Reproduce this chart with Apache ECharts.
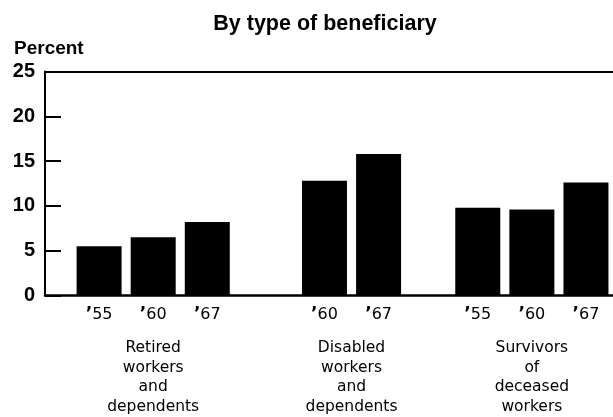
<!DOCTYPE html>
<html>
<head>
<meta charset="utf-8">
<script src="https://cdn.jsdelivr.net/npm/echarts@6/dist/echarts.min.js"></script>
<style>
  html, body { margin: 0; padding: 0; background: #fff; }
  #chart { width: 613px; height: 417px; }
</style>
</head>
<body>
<div id="chart"></div>
<script>
// values (percent)
const retiredYears = ['55', '60', '67'];
const retiredValues = [5.5, 6.5, 8.2];
const disabledYears = ['60', '67'];
const disabledValues = [12.8, 15.8];
const survivorYears = ['55', '60', '67'];
const survivorValues = [9.8, 9.6, 12.6];
const groupNames = [
  'Retired\nworkers\nand\ndependents',
  'Disabled\nworkers\nand\ndependents',
  'Survivors\nof\ndeceased\nworkers'
];
const yTicks = [0, 5, 10, 15, 20, 25];

// slotted category axis: each bar 6 slots apart, groups start at these slots
const groupStart = [6, 31, 48];
const barStep = 6;
const slotCount = 64;
const groups = [
  { years: retiredYears, values: retiredValues },
  { years: disabledYears, values: disabledValues },
  { years: survivorYears, values: survivorValues }
];
const yearLabel = new Array(slotCount).fill('');
const groupLabel = new Array(slotCount).fill('');
const barData = new Array(slotCount).fill(null);
groups.forEach(function (g, gi) {
  const first = groupStart[gi];
  g.years.forEach(function (y, i) {
    const s = first + i * barStep;
    yearLabel[s] = '{q|\u2019}' + y;
    barData[s] = g.values[i];
  });
  const last = first + (g.years.length - 1) * barStep;
  groupLabel[Math.round((first + last) / 2)] = groupNames[gi];
});
const cats = yearLabel.map(function (_, i) { return 'c' + i; });

const chart = echarts.init(document.getElementById('chart'));
chart.setOption({
  animation: false,
  title: [
    {
      text: 'By type of beneficiary',
      left: 320, top: 8, textAlign: 'center',
      textStyle: { fontFamily: 'Liberation Sans', fontWeight: 'bold', fontSize: 21.5, color: '#000' }
    },
    {
      text: 'Percent',
      left: 9, top: 34,
      textStyle: { fontFamily: 'Liberation Sans', fontWeight: 'bold', fontSize: 19, color: '#000' }
    }
  ],
  grid: { left: 45, right: 0, top: 71.5, bottom: 121.5, containLabel: false, outerBoundsMode: 'none' },
  xAxis: [
    {
      type: 'category', data: cats, boundaryGap: false, position: 'bottom',
      axisLine: { lineStyle: { color: '#000', width: 2.5 } },
      axisTick: { show: false },
      axisLabel: {
        interval: 0, margin: 11, color: '#000', fontFamily: 'DejaVu Sans', fontSize: 16,
        formatter: function (v, i) { return yearLabel[i]; },
        rich: { q: { fontFamily: 'DejaVu Sans', fontWeight: 'bold', fontSize: 17, color: '#000' } }
      }
    },
    {
      type: 'category', data: cats, boundaryGap: false, position: 'top',
      axisLine: { lineStyle: { color: '#000', width: 2 } },
      axisTick: { show: false }, axisLabel: { show: false }
    },
    {
      type: 'category', data: cats, boundaryGap: false, position: 'bottom',
      axisLine: { show: false }, axisTick: { show: false },
      axisLabel: {
        interval: 0, margin: 43, color: '#000', fontFamily: 'DejaVu Sans', fontSize: 15.5,
        lineHeight: 19.5, align: 'center',
        formatter: function (v, i) { return groupLabel[i]; }
      }
    }
  ],
  yAxis: {
    type: 'value', min: yTicks[0], max: yTicks[yTicks.length - 1], interval: 5,
    axisLine: { show: true, lineStyle: { color: '#000', width: 2 } },
    axisTick: { show: true, inside: true, length: 16, lineStyle: { color: '#000', width: 2 } },
    splitLine: { show: false },
    axisLabel: { margin: 10, color: '#000', fontFamily: 'Liberation Sans', fontWeight: 'bold', fontSize: 20 }
  },
  series: [{
    type: 'bar', xAxisIndex: 0, data: barData, barWidth: 45,
    itemStyle: { color: '#000' }
  }]
});
</script>
</body>
</html>
